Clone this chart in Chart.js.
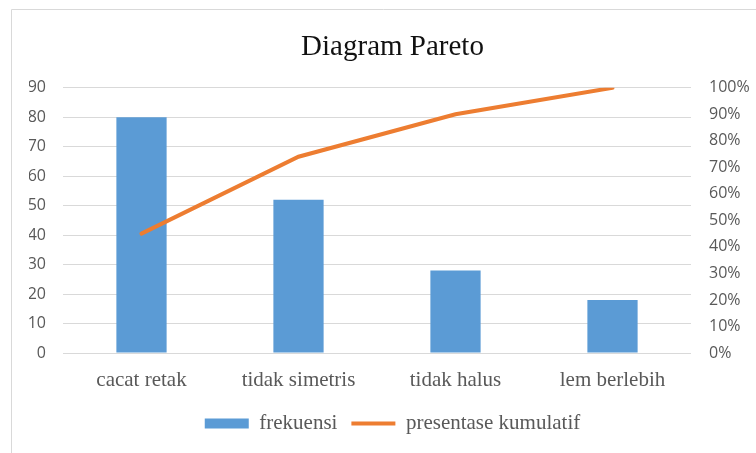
<!DOCTYPE html>
<html>
<head>
<meta charset="utf-8">
<script src="https://cdn.jsdelivr.net/npm/chart.js@4/dist/chart.umd.min.js"></script>
<style>
    html, body { margin: 0; padding: 0; background: #ffffff; }
    #wrap { position: relative; width: 756px; height: 453px; }
</style>
</head>
<body>
<div id="wrap"><canvas id="pareto_chart"></canvas></div>
<script>
const categories = ["cacat retak", "tidak simetris", "tidak halus", "lem berlebih"];
const frekuensi = [80, 52, 28, 18];
const kumulatif = [0.45, 0.74, 0.90, 1.00];
const leftTicks = [0, 10, 20, 30, 40, 50, 60, 70, 80, 90];

const gray = '#595959';
const serif = "'Liberation Serif', 'Times New Roman', serif";
const sans = "'Open Sans', sans-serif";

// thin frame like the office chart box (top and left only are visible)
const frameLines = {
    id: 'frameLines',
    beforeDraw(chart) {
        const ctx = chart.ctx;
        ctx.save();
        ctx.strokeStyle = '#d9d9d9';
        ctx.lineWidth = 1;
        ctx.beginPath();
        ctx.moveTo(11.5, 453);
        ctx.lineTo(11.5, 9.5);
        ctx.lineTo(756, 9.5);
        ctx.stroke();
        ctx.restore();
    }
};

document.addEventListener("DOMContentLoaded", () => {
    paintParetoChart();
});

function paintParetoChart() {
    const ctx = document.getElementById('pareto_chart').getContext('2d');
    const pareto_chart = new Chart(ctx, {
        type: 'bar',
        data: {
            labels: categories,
            datasets: [{
                type: 'line',
                label: "presentase kumulatif",
                data: kumulatif,
                yAxisID: 'y1',
                borderColor: '#ed7d31',
                backgroundColor: '#ed7d31',
                borderWidth: 4,
                borderCapStyle: 'round',
                pointRadius: 0,
                tension: 0,
                order: 0
            }, {
                label: "frekuensi",
                data: frekuensi,
                yAxisID: 'y',
                backgroundColor: '#5b9bd5',
                borderWidth: 0,
                categoryPercentage: 1,
                barPercentage: 0.32,
                order: 1
            }]
        },
        options: {
            responsive: true,
            maintainAspectRatio: false,
            animation: false,
            layout: { padding: { left: 29, right: 0, top: 0, bottom: 9 } },
            plugins: {
                title: {
                    display: true,
                    text: 'Diagram Pareto',
                    color: '#111111',
                    font: { family: serif, size: 29, weight: 'normal' },
                    padding: { top: 30, bottom: 23 }
                },
                legend: {
                    position: 'bottom',
                    labels: {
                        color: gray,
                        font: { family: serif, size: 21 },
                        usePointStyle: true,
                        pointStyleWidth: 44,
                        boxHeight: 10,
                        padding: 14,
                        sort: (a, b) => b.datasetIndex - a.datasetIndex,
                        generateLabels: (chart) => {
                            const items = Chart.defaults.plugins.legend.labels.generateLabels(chart);
                            items.forEach(item => {
                                if (item.datasetIndex === 0) {
                                    item.pointStyle = 'line';
                                    item.lineWidth = 4;
                                    item.strokeStyle = '#ed7d31';
                                } else {
                                    item.pointStyle = 'rect';
                                    item.lineWidth = 0;
                                }
                            });
                            return items;
                        }
                    }
                },
                tooltip: { enabled: false }
            },
            scales: {
                x: {
                    grid: { display: false, drawTicks: false },
                    border: { display: false },
                    ticks: {
                        color: gray,
                        padding: 15,
                        font: { family: serif, size: 21 }
                    },
                    afterFit: (scale) => { scale.height = 46; }
                },
                y: {
                    position: 'left',
                    min: 0,
                    max: 90,
                    afterBuildTicks: (scale) => {
                        scale.ticks = leftTicks.map(v => ({ value: v }));
                    },
                    grid: { color: '#d9d9d9', lineWidth: 1, drawTicks: false },
                    border: { display: false },
                    ticks: {
                        color: gray,
                        padding: 17,
                        font: { family: sans, size: 16 }
                    },
                    afterFit: (scale) => { scale.width = 34; }
                },
                y1: {
                    position: 'right',
                    min: 0,
                    max: 1,
                    grid: { display: false, drawTicks: false },
                    border: { display: false },
                    ticks: {
                        color: gray,
                        stepSize: 0.1,
                        padding: 18,
                        font: { family: sans, size: 16 },
                        callback: (value) => Math.round(value * 100) + '%'
                    },
                    afterFit: (scale) => { scale.width = 65; }
                }
            }
        },
        plugins: [frameLines]
    });
    return pareto_chart;
}
</script>
</body>
</html>
